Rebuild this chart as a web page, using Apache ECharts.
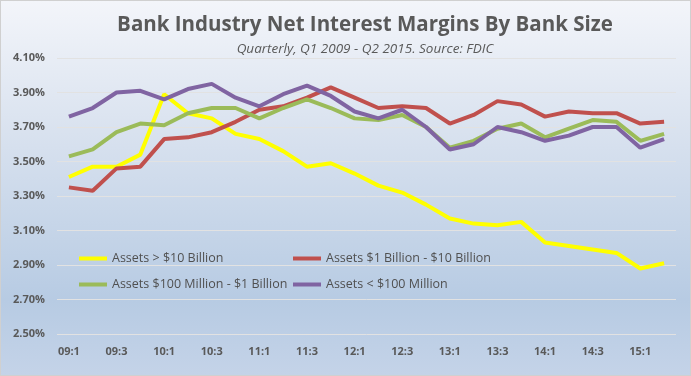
<!DOCTYPE html>
<html>
<head>
<meta charset="utf-8">
<script src="https://cdn.jsdelivr.net/npm/echarts@6/dist/echarts.min.js"></script>
<style>
    html, body { margin: 0; padding: 0; }
    #nimChart { width: 691px; height: 376px; box-sizing: border-box; border: 1px solid #D0D0D0; }
</style>
</head>
<body>
<div id="nimChart"></div>
<script>
// quarters Q1 2009 - Q2 2015
var quarters = ['09:1','09:2','09:3','09:4','10:1','10:2','10:3','10:4','11:1','11:2','11:3','11:4',
    '12:1','12:2','12:3','12:4','13:1','13:2','13:3','13:4','14:1','14:2','14:3','14:4','15:1','15:2'];
var seriesNames = ['Assets > $10 Billion', 'Assets $1 Billion - $10 Billion', 'Assets $100 Million - $1 Billion', 'Assets < $100 Million'];
var over10B = [3.41,3.47,3.47,3.54,3.89,3.78,3.75,3.66,3.63,3.56,3.47,3.49,
    3.43,3.36,3.32,3.25,3.17,3.14,3.13,3.15,3.03,3.01,2.99,2.97,2.88,2.91];
var from1Bto10B = [3.35,3.33,3.46,3.47,3.63,3.64,3.67,3.73,3.80,3.82,3.87,3.93,
    3.87,3.81,3.82,3.81,3.72,3.77,3.85,3.83,3.76,3.79,3.78,3.78,3.72,3.73];
var from100Mto1B = [3.53,3.57,3.67,3.72,3.71,3.78,3.81,3.81,3.75,3.81,3.86,3.81,
    3.75,3.74,3.77,3.70,3.58,3.62,3.69,3.72,3.64,3.69,3.74,3.73,3.62,3.66];
var under100M = [3.76,3.81,3.90,3.91,3.86,3.92,3.95,3.87,3.82,3.89,3.94,3.88,
    3.79,3.75,3.80,3.70,3.57,3.60,3.70,3.67,3.62,3.65,3.70,3.70,3.58,3.63];
var lineColors = ['#FFFF00', '#C0504D', '#9BBB59', '#8064A2'];

var chart = echarts.init(document.getElementById('nimChart'));

function makeLine(i, data){
    return {
        name: seriesNames[i],
        type: 'line',
        data: data,
        symbol: 'none',
        smooth: false,
        lineStyle: { width: 4, color: lineColors[i] },
        itemStyle: { color: lineColors[i] }
    }
}

var legendText = { color: '#505050', fontSize: 12.5, fontFamily: 'Open Sans' };

var option = {
    backgroundColor: {
        type: 'linear', x: 0, y: 0, x2: 0, y2: 1,
        colorStops: [
            { offset: 0, color: '#F3F5FA' },
            { offset: 0.35, color: '#D9E2EF' },
            { offset: 0.8, color: '#B7CBE3' },
            { offset: 1, color: '#C4D3E8' }
        ]
    },
    animation: false,
    title: {
        text: 'Bank Industry Net Interest Margins By Bank Size',
        subtext: 'Quarterly, Q1 2009 - Q2 2015. Source: FDIC',
        left: 359,
        textAlign: 'center',
        top: 9,
        itemGap: 6,
        textStyle: { fontFamily: 'Open Sans', fontSize: 20.5, fontWeight: 'bold', color: '#595959' },
        subtextStyle: { fontFamily: 'Open Sans', fontSize: 13.5, fontStyle: 'italic', color: '#595959' }
    },
    legend: [
        {
            orient: 'vertical', left: 73, top: 246, itemGap: 13,
            icon: 'rect', itemWidth: 28, itemHeight: 4,
            data: [seriesNames[0], seriesNames[2]],
            textStyle: legendText
        },
        {
            orient: 'vertical', left: 287, top: 246, itemGap: 13,
            icon: 'rect', itemWidth: 28, itemHeight: 4,
            data: [seriesNames[1], seriesNames[3]],
            textStyle: legendText
        }
    ],
    grid: { left: 56, right: 14, top: 57, bottom: 41, containLabel: false },
    xAxis: {
        type: 'category',
        data: quarters,
        boundaryGap: true,
        axisLine: { show: false },
        axisTick: { show: false },
        axisLabel: { interval: 1, margin: 12, color: '#595959', fontWeight: 'bold', fontSize: 11, fontFamily: 'Open Sans' }
    },
    yAxis: {
        type: 'value',
        min: 2.5,
        max: 4.1,
        interval: 0.2,
        axisLine: { show: false },
        axisTick: { show: false },
        axisLabel: {
            margin: 12, color: '#595959', fontWeight: 'bold', fontSize: 11, fontFamily: 'Open Sans',
            formatter: function(v){ return v.toFixed(2) + '%' }
        },
        splitLine: { show: true, lineStyle: { color: '#E2E2E2', width: 1 } }
    },
    series: [
        makeLine(0, over10B),
        makeLine(1, from1Bto10B),
        makeLine(2, from100Mto1B),
        makeLine(3, under100M)
    ]
};
chart.setOption(option, true);
</script>
</body>
</html>
